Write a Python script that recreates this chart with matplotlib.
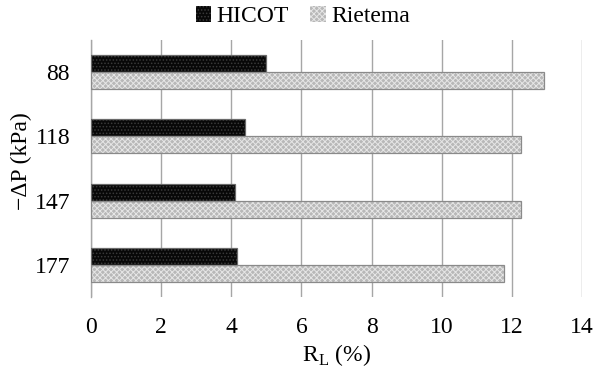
import numpy as np
import matplotlib.pyplot as plt

plt.rcParams['font.family'] = ['Liberation Serif', 'DejaVu Serif']
plt.rcParams['hatch.linewidth'] = 0.7

pressures = ['88', '118', '147', '177']
hicot = [5.0, 4.38, 4.1, 4.17]
rietema = [12.92, 12.26, 12.26, 11.78]

fig = plt.figure(figsize=(5.94, 3.70), dpi=100)
ax = fig.add_axes([0.153, 0.197, 0.827, 0.695])

y = np.arange(len(pressures))
h = 0.266
# hatched fills
ax.barh(y - h / 2, hicot, height=h, color='#080808', edgecolor='#3a3a3a',
        hatch='.....', linewidth=0, label='HICOT', zorder=3)
ax.barh(y + h / 2, rietema, height=h, color='#b8b8b8', edgecolor='#e6e6e6',
        hatch='xxxxxx', linewidth=0, label='Rietema', zorder=3)
# outlines
ax.barh(y - h / 2, hicot, height=h, fill=False, edgecolor='#6a6a6a', linewidth=0.9, zorder=4)
ax.barh(y + h / 2, rietema, height=h, fill=False, edgecolor='#8a8a8a', linewidth=0.9, zorder=4)

ax.set_xlim(0, 14)
ax.set_xticks(range(0, 15, 2))
ax.set_ylim(3.5, -0.5)
ax.set_yticks(y)
ax.set_yticklabels(pressures)
ax.grid(axis='x', color='#a6a6a6', linewidth=1.0, zorder=0)
ax.tick_params(axis='x', length=0, labelsize=17, pad=14)
ax.tick_params(axis='y', length=0, labelsize=17, pad=15)
for s in ['top', 'right', 'bottom']:
    ax.spines[s].set_visible(False)
ax.spines['left'].set_color('#a6a6a6')
ax.spines['left'].set_linewidth(1.0)

ax.set_xlabel('R$_\\mathregular{L}$ (%)', fontsize=17, labelpad=3)
ax.set_ylabel('\u2212\u0394P (kPa)', fontsize=17, labelpad=2)
ax.yaxis.set_label_coords(-0.12, 0.53)

fig.legend(*ax.get_legend_handles_labels(), loc='center', bbox_to_anchor=(0.51, 0.955),
           ncol=2, frameon=False, fontsize=17, handlelength=0.65, handleheight=0.65,
           handletextpad=0.25, columnspacing=0.9, borderaxespad=0)

fig.savefig('out.png', dpi=100)
